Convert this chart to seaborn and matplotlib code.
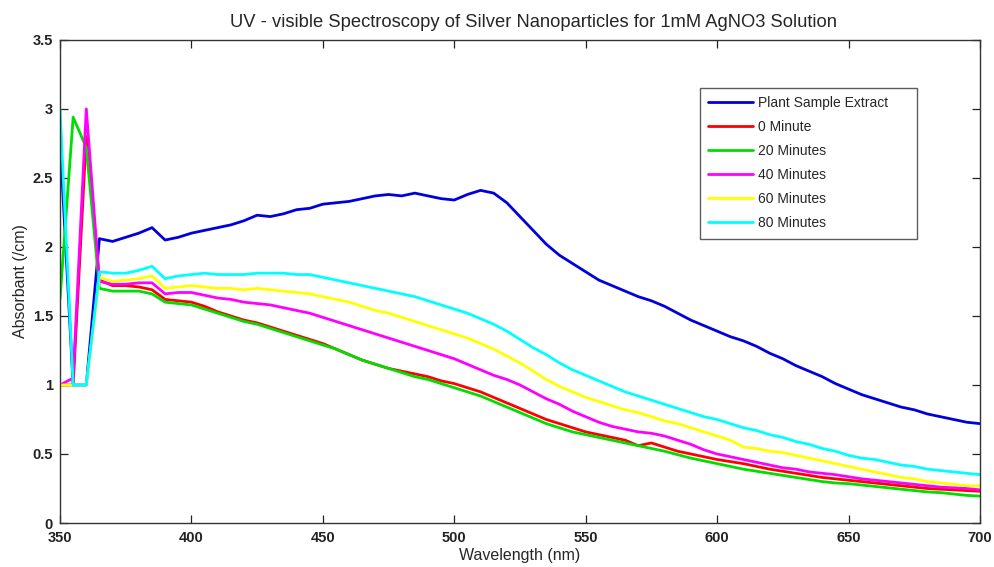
import numpy as np
import pandas as pd
import matplotlib
matplotlib.use("Agg")
import matplotlib.pyplot as plt
import seaborn as sns

wavelength = list(range(350, 701, 5))

plant_extract = [2.78, 1.0, 1.0, 2.06, 2.04, 2.07, 2.10, 2.14, 2.05, 2.07,
                 2.10, 2.12, 2.14, 2.16, 2.19, 2.23, 2.22, 2.24, 2.27, 2.28,
                 2.31, 2.32, 2.33, 2.35, 2.37, 2.38, 2.37, 2.39, 2.37, 2.35,
                 2.34, 2.38, 2.41, 2.39, 2.32, 2.22, 2.12, 2.02, 1.94, 1.88,
                 1.82, 1.76, 1.72, 1.68, 1.64, 1.61, 1.57, 1.52, 1.47, 1.43,
                 1.39, 1.35, 1.32, 1.28, 1.23, 1.19, 1.14, 1.10, 1.06, 1.01,
                 0.97, 0.93, 0.90, 0.87, 0.84, 0.82, 0.79, 0.77, 0.75, 0.73, 0.72]

min0 = [1.0, 1.0, 2.8, 1.76, 1.72, 1.72, 1.71, 1.69, 1.62, 1.61,
        1.60, 1.57, 1.53, 1.50, 1.47, 1.45, 1.42, 1.39, 1.36, 1.33,
        1.30, 1.26, 1.22, 1.18, 1.15, 1.12, 1.10, 1.08, 1.06, 1.03,
        1.01, 0.98, 0.95, 0.91, 0.87, 0.83, 0.79, 0.75, 0.72, 0.69,
        0.66, 0.64, 0.62, 0.60, 0.56, 0.58, 0.55, 0.52, 0.50, 0.48,
        0.46, 0.445, 0.43, 0.41, 0.39, 0.375, 0.36, 0.345, 0.33, 0.32,
        0.31, 0.30, 0.29, 0.28, 0.27, 0.26, 0.25, 0.245, 0.24, 0.235, 0.23]

min20 = [1.62, 2.94, 2.72, 1.70, 1.68, 1.68, 1.68, 1.66, 1.60, 1.59,
         1.58, 1.55, 1.52, 1.49, 1.46, 1.44, 1.41, 1.38, 1.35, 1.32,
         1.29, 1.26, 1.22, 1.18, 1.15, 1.12, 1.09, 1.06, 1.04, 1.01,
         0.98, 0.95, 0.92, 0.88, 0.84, 0.80, 0.76, 0.72, 0.69, 0.66,
         0.64, 0.62, 0.60, 0.58, 0.56, 0.54, 0.52, 0.495, 0.47, 0.45,
         0.43, 0.41, 0.39, 0.375, 0.36, 0.345, 0.33, 0.315, 0.30, 0.29,
         0.285, 0.275, 0.265, 0.255, 0.245, 0.235, 0.225, 0.22, 0.21, 0.20, 0.195]

min40 = [1.0, 1.05, 3.0, 1.75, 1.73, 1.73, 1.74, 1.74, 1.66, 1.67,
         1.67, 1.65, 1.63, 1.62, 1.60, 1.59, 1.58, 1.56, 1.54, 1.52,
         1.49, 1.46, 1.43, 1.40, 1.37, 1.34, 1.31, 1.28, 1.25, 1.22,
         1.19, 1.15, 1.11, 1.07, 1.04, 1.00, 0.95, 0.90, 0.86, 0.81,
         0.77, 0.73, 0.70, 0.68, 0.66, 0.65, 0.63, 0.60, 0.57, 0.53,
         0.50, 0.48, 0.46, 0.44, 0.42, 0.40, 0.39, 0.37, 0.36, 0.35,
         0.335, 0.32, 0.31, 0.30, 0.29, 0.28, 0.27, 0.26, 0.255, 0.25, 0.24]

min60 = [1.0, 1.0, 1.0, 1.78, 1.75, 1.76, 1.77, 1.79, 1.70, 1.71,
         1.72, 1.71, 1.70, 1.70, 1.69, 1.70, 1.69, 1.68, 1.67, 1.66,
         1.64, 1.62, 1.60, 1.57, 1.54, 1.52, 1.49, 1.46, 1.43, 1.40,
         1.37, 1.34, 1.30, 1.26, 1.21, 1.16, 1.10, 1.04, 0.99, 0.95,
         0.91, 0.88, 0.85, 0.82, 0.80, 0.77, 0.74, 0.72, 0.69, 0.66,
         0.63, 0.60, 0.55, 0.54, 0.52, 0.51, 0.49, 0.47, 0.45, 0.43,
         0.41, 0.39, 0.37, 0.35, 0.33, 0.32, 0.30, 0.29, 0.28, 0.27, 0.27]

min80 = [3.0, 1.0, 1.0, 1.82, 1.81, 1.81, 1.83, 1.86, 1.77, 1.79,
         1.80, 1.81, 1.80, 1.80, 1.80, 1.81, 1.81, 1.81, 1.80, 1.80,
         1.78, 1.76, 1.74, 1.72, 1.70, 1.68, 1.66, 1.64, 1.61, 1.58,
         1.55, 1.52, 1.48, 1.44, 1.39, 1.33, 1.27, 1.22, 1.16, 1.11,
         1.07, 1.03, 0.99, 0.95, 0.92, 0.89, 0.86, 0.83, 0.80, 0.77,
         0.75, 0.72, 0.69, 0.67, 0.64, 0.62, 0.59, 0.57, 0.54, 0.52,
         0.49, 0.47, 0.46, 0.44, 0.42, 0.41, 0.39, 0.38, 0.37, 0.36, 0.35]

labels = ["Plant Sample Extract", "0 Minute", "20 Minutes",
          "40 Minutes", "60 Minutes", "80 Minutes"]
colors = ["#0000dd", "#ff0000", "#00dd00", "#ff00ff", "#ffff00", "#00ffff"]
x_ticks = [350, 400, 450, 500, 550, 600, 650, 700]
y_ticks = [0, 0.5, 1, 1.5, 2, 2.5, 3, 3.5]
y_tick_labels = ["0", "0.5", "1", "1.5", "2", "2.5", "3", "3.5"]

series = [plant_extract, min0, min20, min40, min60, min80]
frames = []
for lab, vals in zip(labels, series):
    frames.append(pd.DataFrame({"Wavelength": wavelength, "Absorbance": vals, "Sample": lab}))
df = pd.concat(frames, ignore_index=True)

sns.set_theme(style="ticks")
plt.rcParams["font.family"] = ["Liberation Sans", "DejaVu Sans"]

fig = plt.figure(figsize=(9.95, 5.67), dpi=100)
ax = fig.add_axes([0.0603, 0.0776, 0.9246, 0.852])

sns.lineplot(data=df, x="Wavelength", y="Absorbance", hue="Sample",
             hue_order=labels, palette=colors, estimator=None, sort=False,
             linewidth=2.0, ax=ax)

ax.set_xlim(350, 700)
ax.set_ylim(0, 3.5)
ax.set_xticks(x_ticks)
ax.set_yticks(y_ticks)
ax.set_yticklabels(y_tick_labels)
for t in ax.get_xticklabels() + ax.get_yticklabels():
    t.set_fontweight("bold")
    t.set_fontsize(10.5)
ax.tick_params(direction="in", length=6, width=0.9, top=True, right=True,
               colors="#222222")
ax.tick_params(axis="x", pad=6)
ax.tick_params(axis="y", pad=5)
for s in ax.spines.values():
    s.set_visible(True)
    s.set_color("#333333")
    s.set_linewidth(1.0)

ax.set_xlabel("Wavelength (nm)", fontsize=11.5, labelpad=2)
ax.set_ylabel("Absorbant (/cm)", fontsize=11.5, labelpad=3)
ax.set_title("UV - visible Spectroscopy of Silver Nanoparticles for 1mM AgNO3 Solution",
             fontsize=13.2, pad=9, x=0.515)

leg = ax.legend(loc="upper left", bbox_to_anchor=(0.6957, 0.586, 0.2359, 0.3146),
                mode="expand", fontsize=10, frameon=True, fancybox=False,
                edgecolor="#333333", handlelength=3.2, labelspacing=0.72,
                borderpad=0.6, handletextpad=0.35, borderaxespad=0)
leg.get_frame().set_linewidth(1.0)
for line in leg.get_lines():
    line.set_linewidth(2.0)

fig.savefig("out.png", dpi=100)
